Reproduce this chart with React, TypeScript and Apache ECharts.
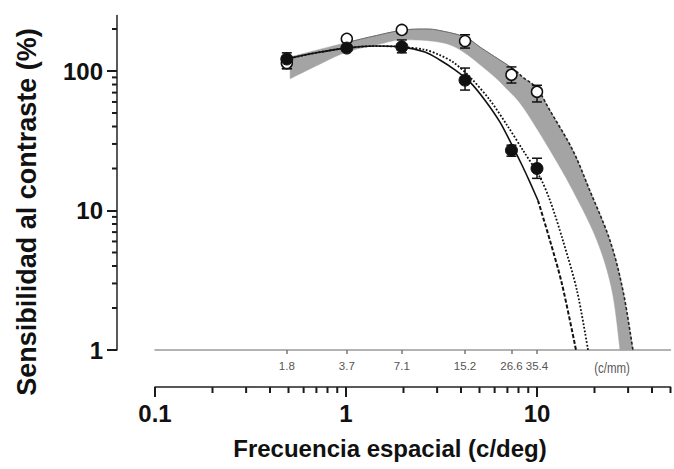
import React, { useEffect, useRef } from "react";
import * as echarts from "echarts";

// Spatial frequency of the measured points (c/deg) and their c/mm equivalents
const freqCdeg = [0.49, 1.01, 1.96, 4.2, 7.35, 10];
const freqCmmLabels = ["1.8", "3.7", "7.1", "15.2", "26.6", "35.4"];

// Open circles (mean, lower, upper)
const openMean = [114, 170, 197, 164, 94, 71];
const openLow = [104, 165, 192, 146, 82, 60];
const openHigh = [122, 175, 202, 182, 107, 79];

// Filled circles (mean, lower, upper)
const filledMean = [122, 146, 149, 86, 27, 20];
const filledLow = [104, 140, 135, 73, 24.5, 17];
const filledHigh = [135, 152, 167, 105, 29.4, 23.7];

// Grey band (fit of open circles)
const bandUpperX = [0.51, 0.7, 1.01, 1.4, 1.96, 2.6, 3.1, 4.2, 5.2, 7.4, 8.45, 10, 11.7, 15.4, 18.9, 24.1, 28.2, 31.8];
const bandUpperY = [126, 141, 160, 178, 196, 200, 195, 175, 144, 105, 90, 75, 52, 27, 13.9, 6.1, 2.66, 1];
const bandLowerX = [0.51, 0.7, 1.01, 1.5, 1.96, 3.0, 3.95, 5.67, 6.97, 8.45, 11.7, 15.4, 20.6, 24.7, 27.2];
const bandLowerY = [88, 109, 137, 156, 167, 162, 142, 97, 74, 55, 27, 13.9, 6.1, 2.66, 1];

// Solid fit (filled circles) and its dashed extrapolation
const solidX = [0.49, 0.697, 1.0, 1.42, 1.94, 2.59, 3.1, 3.72, 4.46, 5.34, 6.4, 7.4, 8.35, 9.19, 10.12];
const solidY = [122, 135, 146, 151, 149, 137, 120, 102, 83.3, 61.8, 43, 29.4, 21.1, 15.9, 11.8];
const dashedX = [10.12, 11.7, 13.5, 16.0];
const dashedY = [11.8, 6.08, 2.99, 1];

// Dotted fit
const dottedX = [0.49, 0.697, 1.0, 1.42, 1.94, 2.59, 3.1, 3.63, 4.46, 5.67, 6.97, 8.45, 10.37, 11.7, 13.68, 16.2, 18.5];
const dottedY = [122, 135, 146, 151, 149, 142, 130, 116, 90.5, 61.8, 40.9, 27, 17.3, 11.8, 6.08, 2.66, 1];

// Axis ticks
const xMajorTicks = [0.1, 1, 10];
const xMinorTicks = [0.2, 0.3, 0.4, 0.5, 0.6, 0.7, 0.8, 0.9, 2, 3, 4, 5, 6, 7, 8, 9, 20, 30, 40, 50];
const yMajorTicks = [1, 10, 100];
const yMinorTicks = [2, 3, 4, 5, 6, 7, 8, 9, 20, 30, 40, 50, 60, 70, 80, 90, 200];

const FONT = "Liberation Sans, Arial, Helvetica, sans-serif";
const X_OFFSET = 37;
const Y_OFFSET = 38;
const SEG = 10;
const TICK = { color: "#1a1a1a", width: 2 };

const pairs = (xs: number[], ys: number[]) => xs.map((x, i) => [x, ys[i]]);
const fmt = (v: number) => String(parseFloat(Number(v).toPrecision(3)));
const cmmLabel = (v: number) => {
  const i = freqCdeg.findIndex((f) => Math.abs(f - Number(v)) < 1e-6 * Math.max(1, f));
  return i >= 0 ? freqCmmLabels[i] : "";
};

// Catmull-Rom sampling of pixel points (rendering only)
function spline(pts: number[][]): number[][] {
  const out: number[][] = [];
  for (let i = 0; i < pts.length - 1; i++) {
    const p0 = pts[i - 1] || pts[i];
    const p1 = pts[i];
    const p2 = pts[i + 1];
    const p3 = pts[i + 2] || p2;
    for (let k = 0; k < SEG; k++) {
      const t = k / SEG;
      const t2 = t * t;
      const t3 = t2 * t;
      out.push(
        [0, 1].map(
          (j) =>
            0.5 *
            (2 * p1[j] +
              (-p0[j] + p2[j]) * t +
              (2 * p0[j] - 5 * p1[j] + 4 * p2[j] - p3[j]) * t2 +
              (-p0[j] + 3 * p1[j] - 3 * p2[j] + p3[j]) * t3)
        )
      );
    }
  }
  out.push(pts[pts.length - 1]);
  return out;
}

export default function App() {
  const ref = useRef<HTMLDivElement>(null);

  useEffect(() => {
    if (!ref.current) return;
    const chart = echarts.init(ref.current, undefined, { renderer: "svg" });

    const errData = (lows: number[], highs: number[]) =>
      freqCdeg.map((f, i) => [f, lows[i], highs[i]]);

    const errRender = (params: any, api: any) => {
      const x = api.value(0);
      const lo = api.coord([x, api.value(1)]);
      const hi = api.coord([x, api.value(2)]);
      const w = 5;
      const st = { stroke: "#111", lineWidth: 1.5 };
      return {
        type: "group",
        children: [
          { type: "line", shape: { x1: lo[0], y1: lo[1], x2: hi[0], y2: hi[1] }, style: st },
          { type: "line", shape: { x1: lo[0] - w, y1: lo[1], x2: lo[0] + w, y2: lo[1] }, style: st },
          { type: "line", shape: { x1: hi[0] - w, y1: hi[1], x2: hi[0] + w, y2: hi[1] }, style: st },
        ],
      };
    };

    const lineSeries = (xs: number[], ys: number[], style: any) => ({
      type: "line",
      z: 3,
      showSymbol: false,
      smooth: 0.3,
      data: pairs(xs, ys),
      lineStyle: style,
    });

    const boldLabel = {
      fontSize: 24,
      fontWeight: "bold",
      color: "#111",
      fontFamily: FONT,
    };

    const texts = [
      {
        type: "text",
        x: 27,
        y: 212,
        rotation: Math.PI / 2,
        style: {
          text: "Sensibilidad al contraste (%)",
          fontSize: 27,
          fontWeight: "bold",
          fontFamily: FONT,
          fill: "#111",
          align: "center",
          verticalAlign: "middle",
        },
      },
      {
        type: "text",
        x: 390,
        y: 448,
        style: {
          text: "Frecuencia espacial (c/deg)",
          fontSize: 24,
          fontWeight: "bold",
          fontFamily: FONT,
          fill: "#111",
          align: "center",
          verticalAlign: "middle",
        },
      },
      {
        type: "text",
        x: 612,
        y: 368,
        scaleX: 0.82,
        style: {
          text: "(c/mm)",
          fontSize: 14,
          fontFamily: FONT,
          fill: "#555",
          align: "center",
          verticalAlign: "middle",
        },
      },
    ];

    const option: any = {
      animation: false,
      grid: { left: 155, right: 3.5, top: 15.5, bottom: 119 },
      xAxis: [
        {
          type: "log",
          min: 0.1,
          max: 50,
          position: "bottom",
          offset: X_OFFSET,
          axisLine: { show: true, lineStyle: { color: "#222", width: 1.5 } },
          axisTick: { show: true, length: 10, customValues: xMajorTicks, lineStyle: TICK },
          axisLabel: { show: true, margin: 14, customValues: xMajorTicks, formatter: (v: number) => fmt(v), ...boldLabel },
          splitLine: { show: false },
        },
        {
          type: "log",
          min: 0.1,
          max: 50,
          position: "bottom",
          offset: 0,
          axisLine: { show: true, lineStyle: { color: "#9a9a9a", width: 1.5 } },
          axisTick: { show: true, length: 4, customValues: freqCdeg, lineStyle: { color: "#777", width: 1.5 } },
          axisLabel: {
            show: true,
            margin: 10,
            customValues: freqCdeg,
            formatter: (v: number) => cmmLabel(v),
            fontSize: 11.5,
            color: "#555",
            fontFamily: FONT,
          },
          splitLine: { show: false },
        },
      ],
      yAxis: {
        type: "log",
        min: 1,
        max: 250,
        position: "left",
        offset: Y_OFFSET,
        axisLine: { show: true, lineStyle: { color: "#222", width: 1.5 } },
        axisTick: { show: true, length: 10, customValues: yMajorTicks, lineStyle: TICK },
        axisLabel: { show: true, margin: 14, customValues: yMajorTicks, formatter: (v: number) => fmt(v), ...boldLabel },
        splitLine: { show: false },
      },
      graphic: texts,
      series: [
        {
          type: "custom",
          z: 1,
          clip: false,
          data: [[bandUpperX[0], bandUpperY[0]]],
          renderItem: (params: any, api: any) => {
            if (params.dataIndex !== 0) return null;
            const up = spline(bandUpperX.map((x, i) => api.coord([x, bandUpperY[i]])));
            const lo = spline(bandLowerX.map((x, i) => api.coord([x, bandLowerY[i]])));
            const edgeSolid = up.slice(2 * SEG, 9 * SEG + 1);
            const edgeDashed = up.slice(9 * SEG);
            return {
              type: "group",
              children: [
                {
                  type: "polygon",
                  shape: { points: [...up, ...lo.slice().reverse()] },
                  style: { fill: "#a4a4a4", stroke: "#a4a4a4", lineWidth: 0.5 },
                },
                {
                  type: "polyline",
                  shape: { points: edgeSolid },
                  style: { stroke: "#666", lineWidth: 1, fill: "none" },
                },
                {
                  type: "polyline",
                  shape: { points: edgeDashed },
                  style: { stroke: "#222", lineWidth: 1.6, lineDash: [3, 2], fill: "none" },
                },
              ],
            };
          },
        },
        lineSeries(solidX, solidY, { color: "#111", width: 1.6 }),
        lineSeries(dashedX, dashedY, { color: "#111", width: 2, type: [4, 2] }),
        lineSeries(dottedX, dottedY, { color: "#111", width: 1.8, type: [1.8, 1.8] }),
        {
          type: "custom",
          z: 4,
          clip: false,
          encode: { x: 0, y: [1, 2] },
          data: errData(openLow, openHigh),
          renderItem: errRender,
        },
        {
          type: "custom",
          z: 4,
          clip: false,
          encode: { x: 0, y: [1, 2] },
          data: errData(filledLow, filledHigh),
          renderItem: errRender,
        },
        {
          type: "scatter",
          z: 5,
          symbol: "circle",
          symbolSize: 11,
          data: pairs(freqCdeg, openMean),
          itemStyle: { color: "#fff", borderColor: "#111", borderWidth: 1.5, opacity: 1 },
        },
        {
          type: "scatter",
          z: 6,
          symbol: "circle",
          symbolSize: 12,
          data: pairs(freqCdeg, filledMean),
          itemStyle: { color: "#111", borderColor: "#111", borderWidth: 1, opacity: 1 },
        },
      ],
    };

    chart.setOption(option);

    // Minor ticks of both log axes, positioned through the chart's own scales
    const yBase = chart.convertToPixel({ yAxisIndex: 0 }, 1) as number;
    const xBase = chart.convertToPixel({ xAxisIndex: 0 }, 0.1) as number;
    const tickEls: any[] = [];
    xMinorTicks.forEach((v) => {
      const px = chart.convertToPixel({ xAxisIndex: 0 }, v) as number;
      const y0 = yBase + X_OFFSET;
      tickEls.push({
        type: "rect",
        shape: { x: px - 1, y: y0, width: 2, height: 6 },
        style: { fill: "#1a1a1a" },
      });
    });
    yMinorTicks.forEach((v) => {
      const py = chart.convertToPixel({ yAxisIndex: 0 }, v) as number;
      const x0 = xBase - Y_OFFSET;
      tickEls.push({
        type: "rect",
        shape: { x: x0 - 5, y: py - 1, width: 5, height: 2 },
        style: { fill: "#1a1a1a" },
      });
    });
    chart.setOption({ graphic: [...texts, ...tickEls] });

    return () => chart.dispose();
  }, []);

  return <div ref={ref} style={{ position: "absolute", left: 0, top: 0, width: 674, height: 469 }} />;
}
